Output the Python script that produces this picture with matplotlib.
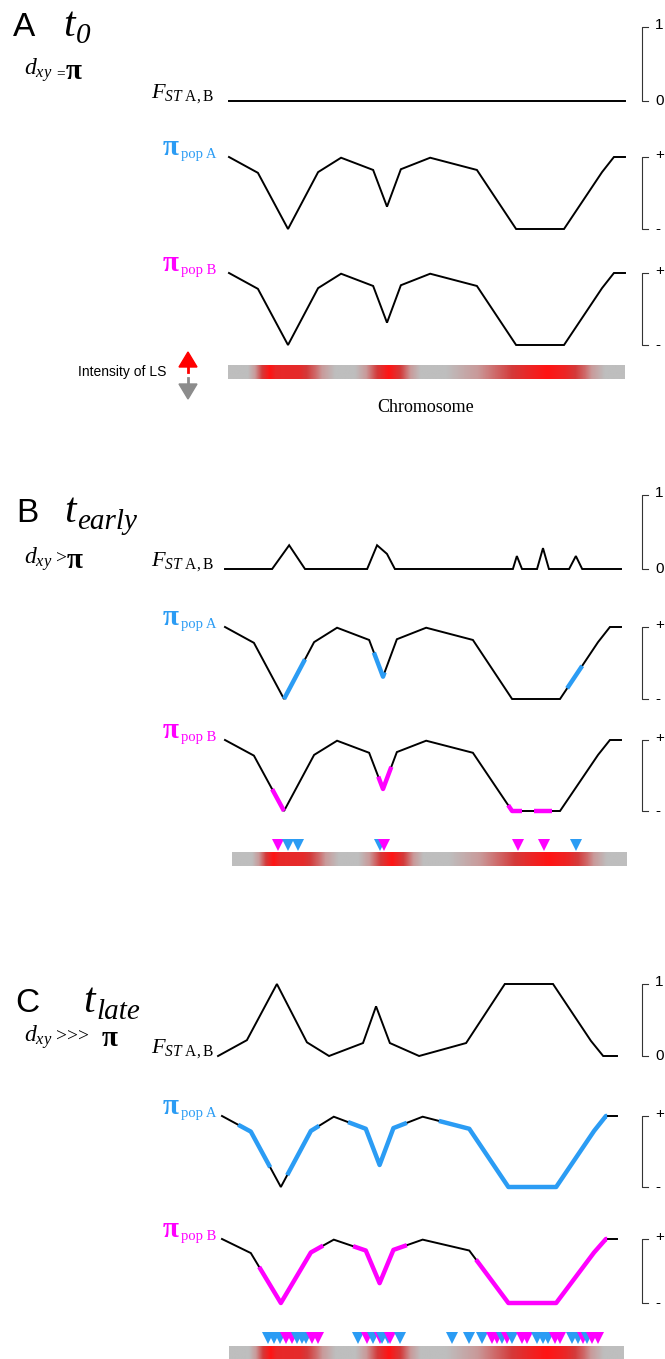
import numpy as np
import matplotlib.pyplot as plt
from matplotlib.colors import LinearSegmentedColormap
from matplotlib.lines import Line2D
from matplotlib.patches import Polygon

W, H = 665, 1359
plt.rcParams['mathtext.fontset'] = 'custom'
plt.rcParams['mathtext.rm'] = 'Liberation Serif'
plt.rcParams['mathtext.it'] = 'Liberation Serif:italic'
plt.rcParams['mathtext.bf'] = 'Liberation Serif:bold'

BLUE = '#2b9cf4'
MAGENTA = '#ff00ff'
SERIF = 'Liberation Serif'
SANS = 'Liberation Sans'

# ---- data (chromosome position 0-100, scaled values 0-1) ----
pi_pos = [0, 7.3, 14.9, 22.5, 28.3, 36.4, 39.9, 43.4, 50.8, 62.6, 72.5, 84.6, 94.2, 97.2, 100]
pi_val = [1.0, 0.78, 0.0, 0.79, 0.99, 0.82, 0.31, 0.83, 0.99, 0.82, 0.0, 0.0, 0.79, 1.0, 1.0]

fst_a_pos = [0, 100]
fst_a_val = [0, 0]

fst_b_pos = [0, 11.9, 16.2, 20.2, 35.9, 38.4, 40.9, 42.9, 72.7, 73.7, 75.0, 78.8, 80.3, 81.8, 86.9, 88.6, 90.2, 100]
fst_b_val = [0, 0, 0.33, 0, 0, 0.33, 0.21, 0, 0, 0.18, 0, 0, 0.29, 0, 0, 0.18, 0, 0]

fst_c_pos = [-1, 6.3, 13.9, 21.5, 27.1, 35.7, 39.0, 42.5, 49.9, 61.8, 71.6, 83.8, 93.4, 96.5, 100]
fst_c_val = [0, 0.22, 1.0, 0.19, 0, 0.18, 0.69, 0.18, 0, 0.18, 1.0, 1.0, 0.21, 0, 0]

# stretches of reduced diversity (coloured)
b_popA_segs = [(14.9, 20.2), (37.6, 40.3), (86.4, 90.2)]
b_popB_segs = [(11.9, 14.9), (38.7, 42.0), (71.5, 75.0), (78.0, 82.5)]
c_popA_segs = [(4.1, 12.2), (16.5, 24.6), (31.9, 46.8), (54.9, 97.5)]
c_popB_segs = [(9.4, 25.6), (33.2, 46.8), (64.3, 97.5)]

# intensity of linked selection along the chromosome
ls_pos = [0, 5, 9, 10.5, 12, 18, 22, 27, 32, 37, 40.5, 44, 48.5, 55, 62, 70, 76, 80.5, 85, 90, 95, 100]
ls_val = [0, 0, 0.75, 1.0, 0.82, 0.8, 0.5, 0, 0, 0.6, 1.0, 0.6, 0, 0, 0.3, 0.6, 0.85, 1.0, 0.85, 0.5, 0, 0]

# outlier windows (triangles)
b_mark_B = [11.6, 38.5, 72.4, 79.0]
b_mark_A = [14.2, 16.7, 37.5, 87.1]
c_mark_A = [9.9, 11.4, 12.9, 17.2, 18.5, 19.5, 32.7, 36.5, 38.7, 40.3, 43.3, 56.5, 60.8, 64.1,
            69.1, 71.6, 78.0, 79.5, 80.8, 86.8, 88.4, 90.6]
c_mark_B = [14.4, 15.9, 21.0, 22.5, 34.9, 38.2, 40.8, 66.6, 67.8, 70.4, 74.2, 75.4, 82.5, 83.8,
            89.6, 91.9, 93.4]

fig = plt.figure(figsize=(W / 100, H / 100), dpi=100)


def fy(y):
    return 1 - y / H


def row(x0, x1, ytop, ybot):
    ax = fig.add_axes([x0 / W, fy(ybot), (x1 - x0) / W, (ybot - ytop) / H])
    ax.set_xlim(0, 100)
    ax.set_ylim(0, 1)
    ax.axis('off')
    return ax


def piece(xs, ys, a, b):
    xs = np.asarray(xs, float)
    ys = np.asarray(ys, float)
    inside = (xs > a) & (xs < b)
    sx = np.concatenate([[a], xs[inside], [b]])
    sy = np.concatenate([[np.interp(a, xs, ys)], ys[inside], [np.interp(b, xs, ys)]])
    return sx, sy


def curve(ax, xs, ys, segs=(), color=None):
    ax.plot(xs, ys, color='black', lw=1.4, clip_on=False, solid_joinstyle='miter')
    for a, b in segs:
        sx, sy = piece(xs, ys, a, b)
        ax.plot(sx, sy, color=color, lw=3.2, clip_on=False, solid_capstyle='butt')


def bracket(ytop, ybot, top, bot):
    x, x2 = 642 / W, 648 / W
    fig.add_artist(Line2D([x2, x, x, x2], [fy(ytop), fy(ytop), fy(ybot), fy(ybot)],
                          transform=fig.transFigure, color='#333333', lw=0.8))
    fig.text(655 / W, fy(ytop - 2), top, family=SANS, fontsize=11, va='center')
    fig.text(655 / W, fy(ybot), bot, family=SANS, fontsize=11, va='center')


def fst_label(y):
    fig.text(214 / W, fy(y), r'$F_{ST\ \mathrm{A,B}}$', fontsize=16, ha='right', va='baseline')


def pi_label(y, pop, color):
    fig.text(163 / W, fy(y - 2), 'π', family=SERIF, fontweight='bold', fontsize=21,
             color=color, va='baseline')
    fig.text(181 / W, fy(y + 1), 'pop ' + pop, family=SERIF, fontsize=10.5,
             color=color, va='baseline')


ls_cmap = LinearSegmentedColormap.from_list('ls', ['#bebebe', '#c99a9a', '#d43a3a', '#ff1414'])
grid = np.linspace(0, 100, 800)
ls_img = np.interp(grid, ls_pos, ls_val)[None, :]


def chrom_bar(x0, x1, ytop, ybot):
    ax = row(x0, x1, ytop, ybot)
    ax.imshow(ls_img, cmap=ls_cmap, vmin=0, vmax=1, aspect='auto',
              extent=[0, 100, 0, 1], interpolation='bilinear')
    return ax


def marks(x0, x1, ytop, ybot, pos_a, pos_b):
    ax = row(x0, x1, ytop, ybot)
    pts = sorted([(p, MAGENTA) for p in pos_b] + [(p, BLUE) for p in pos_a])
    for p, c in pts:
        ax.plot([p], [0.5], marker='v', ms=8.8, color=c, mew=0, clip_on=False)


def title(letter, lx, x, y, sub):
    fig.text(lx / W, fy(y), letter, family=SANS, fontsize=24, va='baseline')
    fig.text(x / W, fy(y), 't', family=SERIF, style='italic', fontsize=30, va='baseline')
    fig.text((x + 13) / W, fy(y + 7), sub, family=SERIF, style='italic', fontsize=21,
             va='baseline')


def dxy(y, rel, rel_size, rel_dy, pi_x):
    fig.text(24 / W, fy(y), r'$d_{xy}$', fontsize=17, va='baseline')
    fig.text(56 / W, fy(y + rel_dy), rel, family=SERIF, fontsize=rel_size, va='baseline')
    fig.text(pi_x / W, fy(y + 4), 'π', family=SERIF, fontweight='bold', fontsize=21,
             va='baseline')


# ---------------- Panel A ----------------
title('A', 13, 63, 36, '0')
dxy(75, '=', 11, 2, 66)

ax = row(229, 625, 29, 101)
curve(ax, fst_a_pos, fst_a_val)
fst_label(98)
bracket(27, 101, '1', '0')

ax = row(229, 625, 157, 229)
curve(ax, pi_pos, pi_val)
pi_label(157, 'A', BLUE)
bracket(157, 229, '+', '-')

ax = row(229, 625, 273, 345)
curve(ax, pi_pos, pi_val)
pi_label(273, 'B', MAGENTA)
bracket(273, 345, '+', '-')

chrom_bar(228, 625, 365, 379)
fig.text(426 / W, fy(407), 'Chromosome', family=SERIF, fontsize=13, ha='center', va='center')
fig.text(166 / W, fy(372), 'Intensity of LS', family=SANS, fontsize=10, ha='right', va='center')
fig.add_artist(Polygon([(179 / W, fy(367)), (197 / W, fy(367)), (188 / W, fy(352))],
                       closed=True, color='red', transform=fig.transFigure))
fig.add_artist(Line2D([188 / W] * 2, [fy(366), fy(372)], color='red', lw=2,
                      transform=fig.transFigure))
fig.add_artist(Polygon([(179 / W, fy(384)), (197 / W, fy(384)), (188 / W, fy(399))],
                       closed=True, color='#8c8c8c', transform=fig.transFigure))
fig.add_artist(Line2D([188 / W] * 2, [fy(378), fy(385)], color='#8c8c8c', lw=2,
                      transform=fig.transFigure))

# ---------------- Panel B ----------------
title('B', 16, 64, 522, 'early')
dxy(564, '>', 14, 0, 67)

ax = row(225, 621, 497, 569)
curve(ax, fst_b_pos, fst_b_val)
fst_label(566)
bracket(495, 569, '1', '0')

ax = row(225, 621, 627, 699)
curve(ax, pi_pos, pi_val, b_popA_segs, BLUE)
pi_label(627, 'A', BLUE)
bracket(627, 699, '+', '-')

ax = row(225, 621, 740, 811)
curve(ax, pi_pos, pi_val, b_popB_segs, MAGENTA)
pi_label(740, 'B', MAGENTA)
bracket(740, 811, '+', '-')

marks(232, 627, 839, 851, b_mark_A, b_mark_B)
chrom_bar(232, 627, 852, 866)

# ---------------- Panel C ----------------
title('C', 15, 83, 1012, 'late')
dxy(1042, '>>>', 14, 0, 102)

ax = row(222, 617, 984, 1056)
curve(ax, fst_c_pos, fst_c_val)
fst_label(1053)
bracket(984, 1056, '1', '0')

ax = row(222, 617, 1116, 1187)
curve(ax, pi_pos, pi_val, c_popA_segs, BLUE)
pi_label(1116, 'A', BLUE)
bracket(1116, 1187, '+', '-')

ax = row(222, 617, 1239, 1303)
curve(ax, pi_pos, pi_val, c_popB_segs, MAGENTA)
pi_label(1239, 'B', MAGENTA)
bracket(1239, 1303, '+', '-')

marks(229, 624, 1332, 1344, c_mark_A, c_mark_B)
chrom_bar(229, 624, 1346, 1362)

fig.savefig('out.png', dpi=100)
